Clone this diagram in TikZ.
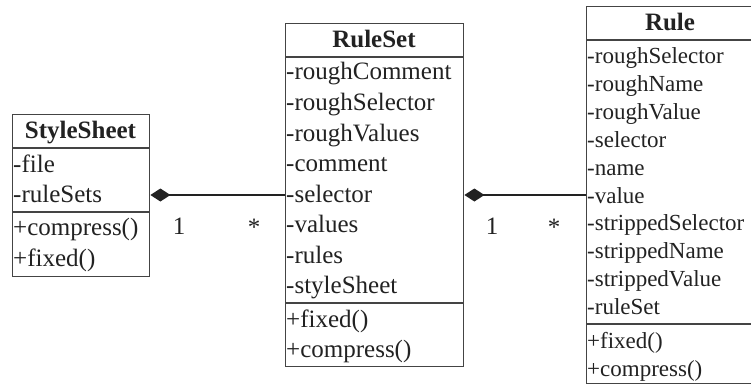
\documentclass[tikz,border=0pt]{standalone}
\usepackage{fontspec}
\setmainfont{Liberation Serif}
\usetikzlibrary{arrows.meta}
\definecolor{ink}{HTML}{222222}
\definecolor{frame}{HTML}{444444}
\tikzset{
  classbox/.style={draw=frame, line width=1.4pt, rectangle, inner sep=0pt, anchor=north west},
  sepline/.style={draw=frame, line width=1.4pt},
  big/.style={font=\fontsize{25}{30}\selectfont},
  small/.style={font=\fontsize{23}{28}\selectfont},
  attr/.style={text=ink, inner sep=0pt, anchor=base west},
  titletext/.style={text=ink, inner sep=0pt, anchor=base, font=\bfseries\fontsize{25}{30}\selectfont},
  mult/.style={text=ink, inner sep=0pt, anchor=center, font=\fontsize{25}{30}\selectfont},
  comp/.style={draw=ink, line width=1.3pt, -{Diamond[length=20pt,width=13pt]}},
}
\begin{document}
\begin{tikzpicture}[x=1pt,y=-1pt]
\clip (0,0) rectangle (751,385);
\fill[white] (0,0) rectangle (751,385);

% StyleSheet
\node[classbox, minimum width=137pt, minimum height=162pt] (ss) at (12,114) {};
\draw[sepline] (ss.west |- 0,148) -- (ss.east |- 0,148);
\draw[sepline] (ss.west |- 0,212) -- (ss.east |- 0,212);
\node[titletext] (sst) at (80.5,138) {StyleSheet};
\node[attr,big] (ssa1) at (13,172) {-file};
\node[attr,big] (ssa2) at (13,202) {-ruleSets};
\node[attr,big] (ssm1) at (13,235) {+compress()};
\node[attr,big] (ssm2) at (13,266) {+fixed()};

% RuleSet
\node[classbox, minimum width=178pt, minimum height=343pt] (rs) at (285,23) {};
\draw[sepline] (rs.west |- 0,57) -- (rs.east |- 0,57);
\draw[sepline] (rs.west |- 0,303) -- (rs.east |- 0,303);
\node[titletext] (rst) at (374,48) {RuleSet};
\node[attr,big] (rsa1) at (286,80) {-roughComment};
\node[attr,big] (rsa2) at (286,110.5) {-roughSelector};
\node[attr,big] (rsa3) at (286,141) {-roughValues};
\node[attr,big] (rsa4) at (286,171.5) {-comment};
\node[attr,big] (rsa5) at (286,202) {-selector};
\node[attr,big] (rsa6) at (286,232.5) {-values};
\node[attr,big] (rsa7) at (286,263) {-rules};
\node[attr,big] (rsa8) at (286,293.5) {-styleSheet};
\node[attr,big] (rsm1) at (286,327) {+fixed()};
\node[attr,big] (rsm2) at (286,357) {+compress()};

% Rule
\node[classbox, minimum width=168pt, minimum height=377pt] (ru) at (586,6) {};
\draw[sepline] (ru.west |- 0,40) -- (ru.east |- 0,40);
\draw[sepline] (ru.west |- 0,324) -- (ru.east |- 0,324);
\node[titletext] (rut) at (670,31) {Rule};
\node[attr,small] (rua1) at (587,63.5) {-roughSelector};
\node[attr,small] (rua2) at (587,91.4) {-roughName};
\node[attr,small] (rua3) at (587,119.3) {-roughValue};
\node[attr,small] (rua4) at (587,147.2) {-selector};
\node[attr,small] (rua5) at (587,175.1) {-name};
\node[attr,small] (rua6) at (587,203) {-value};
\node[attr,small] (rua7) at (587,230.9) {-strippedSelector};
\node[attr,small] (rua8) at (587,258.8) {-strippedName};
\node[attr,small] (rua9) at (587,286.7) {-strippedValue};
\node[attr,small] (rua10) at (587,314.6) {-ruleSet};
\node[attr,small] (rum1) at (587,348.5) {+fixed()};
\node[attr,small] (rum2) at (587,376.5) {+compress()};

% connectors
\draw[comp] (rs.west |- 0,195) -- (ss.east |- 0,195);
\draw[comp] (ru.west |- 0,195) -- (rs.east |- 0,195);

% multiplicities
\node[mult] (m1a) at (179,226) {1};
\node[mult] (m1b) at (254,227) {*};
\node[mult] (m2a) at (492,226) {1};
\node[mult] (m2b) at (554,227) {*};
\end{tikzpicture}
\end{document}
